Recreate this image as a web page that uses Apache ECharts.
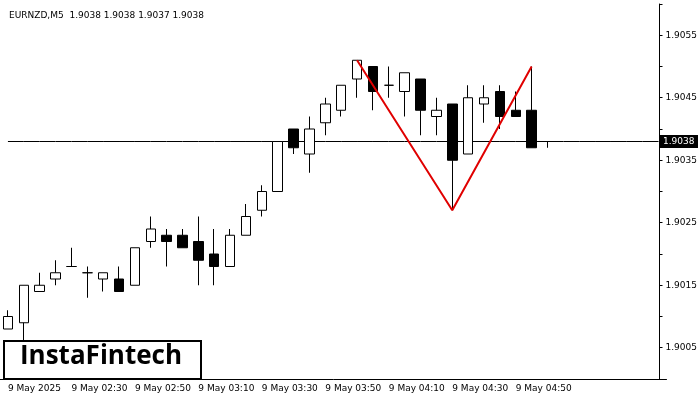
<!DOCTYPE html>
<html><head><meta charset="utf-8">
<script src="https://cdn.jsdelivr.net/npm/echarts@6/dist/echarts.min.js"></script>
<style>html,body{margin:0;padding:0;background:#fff}#c{width:700px;height:400px}</style>
</head><body><div id="c"></div>
<script>
const times = [];
for (let i = 0; i < 42; i++) { const m = 130 + 5 * i; times.push('9 May ' + String(Math.floor(m / 60)).padStart(2, '0') + ':' + String(m % 60).padStart(2, '0')); }
const categories = times;
// [open, close, low, high]
const candles = [
[1.9008,1.9010,1.9008,1.9011],[1.9009,1.9015,1.9006,1.9015],[1.9014,1.9015,1.9014,1.9017],
[1.9016,1.9017,1.9015,1.9019],[1.9018,1.9018,1.9018,1.9021],[1.9017,1.9017,1.9013,1.9018],
[1.9016,1.9017,1.9014,1.9017],[1.9016,1.9014,1.9014,1.9018],[1.9015,1.9021,1.9015,1.9021],
[1.9022,1.9024,1.9021,1.9026],[1.9023,1.9022,1.9018,1.9024],[1.9023,1.9021,1.9021,1.9024],
[1.9022,1.9019,1.9015,1.9026],[1.9020,1.9018,1.9015,1.9024],[1.9018,1.9023,1.9018,1.9024],
[1.9023,1.9026,1.9023,1.9028],[1.9027,1.9030,1.9026,1.9031],[1.9030,1.9038,1.9030,1.9038],
[1.9040,1.9037,1.9036,1.9040],[1.9036,1.9040,1.9033,1.9042],[1.9041,1.9044,1.9039,1.9045],
[1.9043,1.9047,1.9042,1.9047],[1.9048,1.9051,1.9045,1.9051],[1.9050,1.9046,1.9043,1.9050],
[1.9047,1.9047,1.9045,1.9050],[1.9046,1.9049,1.9042,1.9049],[1.9048,1.9043,1.9039,1.9048],
[1.9042,1.9043,1.9039,1.9045],[1.9044,1.9035,1.9027,1.9044],[1.9036,1.9045,1.9036,1.9047],
[1.9044,1.9045,1.9041,1.9047],[1.9046,1.9042,1.9040,1.9047],[1.9043,1.9042,1.9042,1.9046],
[1.9043,1.9037,1.9037,1.9050],[1.9038,1.9038,1.9037,1.9038]
];
const patternIdx = [22, 28, 33];
const patternVal = [1.9051, 1.9027, 1.9050];
const currentPrice = 1.9038;
const yTicks = [1.9005, 1.9015, 1.9025, 1.9035, 1.9045, 1.9055];

const lineData = categories.map(() => null);
patternIdx.forEach((k, j) => lineData[k] = patternVal[j]);
const priceData = categories.map(() => currentPrice);
const labelIdx = [0,4,8,12,16,20,24,28,32];

const chart = echarts.init(document.getElementById('c'));
chart.setOption({
  animation: false,
  title: { text: 'EURNZD,M5  1.9038 1.9038 1.9037 1.9038', left: 4, top: 6,
    textStyle: { fontSize: 9, fontWeight: 'normal', color: '#000', fontFamily: 'DejaVu Sans' } },
  grid: { left: -5, right: 33, top: 4, bottom: 21 },
  xAxis: { type: 'category', data: categories, boundaryGap: true,
    axisLine: { lineStyle: { color: '#000' } },
    axisTick: { show: false },
    axisLabel: { interval: (i) => labelIdx.includes(i), formatter: (v, i) => i === 0 ? '9 May 2025' : v,
      fontSize: 9, color: '#000', align: 'left', margin: 5, fontFamily: 'DejaVu Sans' },
    splitLine: { show: false } },
  yAxis: { type: 'value', position: 'right', min: 1.9, max: 1.906, interval: 0.0005, offset: -7,
    axisLine: { show: true, lineStyle: { color: '#000' } },
    axisTick: { show: true, length: 3, lineStyle: { color: '#000' } },
    splitLine: { show: false },
    axisPointer: { show: false },
    axisLabel: { fontSize: 9, color: '#000', margin: 6, fontFamily: 'DejaVu Sans',
      formatter: (v) => yTicks.some(t => Math.abs(t - v) < 1e-7) ? v.toFixed(4) : '' } },
  series: [
    { type: 'line', data: priceData, symbol: 'none', silent: true, z: 1,
      lineStyle: { color: '#000', width: 1 } },
    { type: 'candlestick', data: candles, barWidth: 10, z: 2,
      itemStyle: { color: '#fff', color0: '#000', borderColor: '#000', borderColor0: '#000', borderWidth: 1 } },
    { type: 'line', data: lineData, connectNulls: true, symbol: 'none', z: 3,
      lineStyle: { color: '#e00000', width: 2 } }
  ],
  graphic: [
    { type: 'rect', left: 660, top: 135, z: 10, shape: { width: 38, height: 13 }, style: { fill: '#000' } },
    { type: 'text', left: 663, top: 137, z: 11, style: { text: currentPrice.toFixed(4), fontSize: 9, fill: '#fff', fontFamily: 'DejaVu Sans' } },
    { type: 'rect', left: 3, top: 340, shape: { width: 197, height: 38 },
      style: { fill: '#fff', stroke: '#000', lineWidth: 2 } },
    { type: 'text', left: 20, top: 344,
      style: { text: 'InstaFintech', fontSize: 26, fontWeight: 'bold', fill: '#000', fontFamily: 'Open Sans' } }
  ]
});
</script></body></html>
